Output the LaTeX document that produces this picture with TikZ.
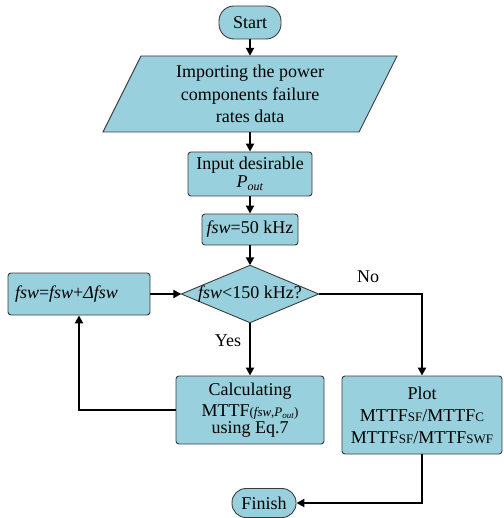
\documentclass[tikz,border=0pt]{standalone}
\usepackage{fontspec}
\setmainfont{Liberation Serif}
\usetikzlibrary{arrows.meta,positioning}
\definecolor{boxfill}{RGB}{153,208,221}
\definecolor{boxline}{RGB}{60,60,60}
\tikzset{
  base/.style={fill=boxfill,draw=boxline,line width=0.9pt,inner sep=0pt,align=center,
    font=\fontsize{18}{22}\selectfont},
  procbox/.style={base,rectangle,rounded corners=3pt},
  termbox/.style={base,rectangle,rounded corners=15pt},
  ghost/.style={rectangle,inner sep=0pt,align=center,font=\fontsize{18}{22.5}\selectfont},
  conn/.style={line width=2pt,-{Triangle[length=8pt,width=8pt]}},
  lbl/.style={font=\fontsize{18}{22}\selectfont}
}
\newcommand{\smc}[1]{{\fontsize{13}{13}\selectfont #1}}
\newcommand{\pout}{\textit{P}\raisebox{-3pt}{\fontsize{12}{12}\selectfont\textit{out}}}
\begin{document}
\begin{tikzpicture}[x=1pt,y=-1pt]
\useasboundingbox (0,0) rectangle (503,518);
% Start
\node[termbox,minimum width=62pt,minimum height=33pt] (start) at (250,22.5) {Start};
% Import (parallelogram)
\node[ghost,minimum width=218pt,minimum height=76pt] (imp) at (250,94) {};
\draw[fill=boxfill,draw=boxline,line width=0.9pt] (141,56) -- (397,56) -- (359,132) -- (103,132) -- cycle;
\node[ghost] at (imp.center) {Importing the power\\components failure\\rates data};
% Input
\node[procbox,minimum width=124pt,minimum height=44pt] (inp) at (250,174) {Input desirable\\[-4pt]\pout};
% fsw=50
\node[procbox,minimum width=96pt,minimum height=31pt] (fsw) at (250,229.5) {\textit{fsw}=50 kHz};
% decision
\node[ghost,minimum width=137pt,minimum height=57pt] (dec) at (250,294) {};
\draw[fill=boxfill,draw=boxline,line width=0.9pt] (dec.west) -- (dec.north) -- (dec.east) -- (dec.south) -- cycle;
\node[ghost] at (dec.center) {\textit{fsw}<150 kHz?};
% increment
\node[procbox,minimum width=142pt,minimum height=42pt,text width=128pt,align=left] (inc) at (79,294) {\textit{fsw}=\textit{fsw}+\textit{Δfsw}};
% calc
\node[procbox,minimum width=148pt,minimum height=68pt] (calc) at (250,410)
  {Calculating\\[-1pt]MTTF{\fontsize{13}{13}\selectfont(\textit{fsw},\textit{P}\raisebox{-2pt}{\fontsize{9}{9}\selectfont\textit{out}})}\\[-5pt]using Eq.7};
% plot
\node[procbox,minimum width=160pt,minimum height=78pt] (plot) at (422,415)
  {Plot\\MTTF\smc{SF}/MTTF\smc{C}\\MTTF\smc{SF}/MTTF\smc{SWF}};
% finish
\node[termbox,minimum width=64pt,minimum height=29pt,rounded corners=14pt] (fin) at (264,503) {Finish};
% connectors
\draw[conn] (start.south) -- (imp.north);
\draw[conn] (imp.south) -- (inp.north);
\draw[conn] (inp.south) -- (fsw.north);
\draw[conn] (fsw.south) -- (dec.north);
\draw[conn] (inc.east) -- (dec.west);
\draw[conn] (dec.south) -- (calc.north);
\draw[conn] (dec.east) -| (plot.north);
\draw[conn] (calc.west) -| (inc.south);
\draw[conn] (plot.south) |- (fin.east);
\node[lbl] (yes) at (228,341) {Yes};
\node[lbl] (no) at (368,277) {No};
\end{tikzpicture}
\end{document}
